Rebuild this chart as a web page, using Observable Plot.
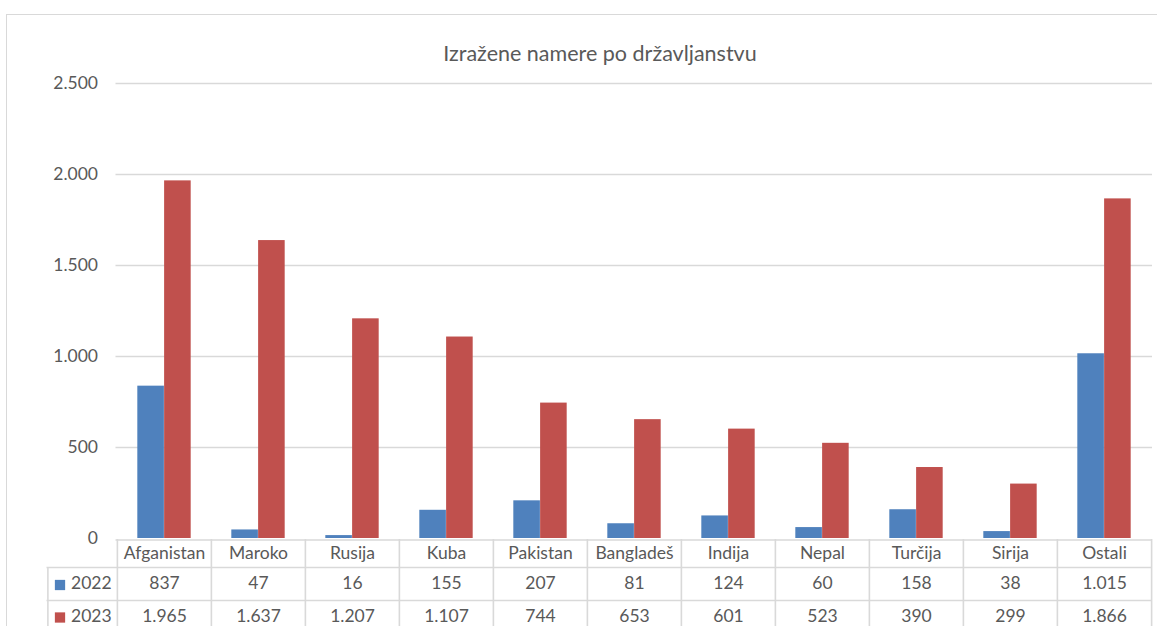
<!DOCTYPE html>
<html><head><meta charset="utf-8">
<script src="https://cdn.jsdelivr.net/npm/d3@7"></script>
<script src="https://cdn.jsdelivr.net/npm/@observablehq/plot@0.6"></script>
<style>
body{margin:0;background:#fff;overflow:hidden;font-family:Lato,"Open Sans",sans-serif;}
#frame{position:absolute;left:6px;top:14px;width:1170px;height:700px;border:1px solid #d9d9d9;box-sizing:border-box;}
#title{position:absolute;left:0;top:40px;width:1200px;text-align:center;font-size:21.5px;line-height:26px;color:#595959;}
#chart{position:absolute;left:0;top:70px;}
</style></head>
<body>
<div id="frame"></div>
<div id="title">Izražene namere po državljanstvu</div>
<div id="chart"></div>
<script>
const countries = ["Afganistan","Maroko","Rusija","Kuba","Pakistan","Bangladeš","Indija","Nepal","Turčija","Sirija","Ostali"];
const values2022 = [837,47,16,155,207,81,124,60,158,38,1015];
const values2023 = [1965,1637,1207,1107,744,653,601,523,390,299,1866];
const years = ["2022","2023"];
const yTicks = [0,500,1000,1500,2000,2500];

const rows = countries.map((c,i)=>({country:c, v2022:values2022[i], v2023:values2023[i]}));
const locale = d3.formatLocale({decimal:",", thousands:".", grouping:[3], currency:["","€"]});
const fmt = locale.format(",d");

const W = 1157, H = 560, mL = 115.5, mR = 5, mT = 13, mB = 92;
const bw = (W - mL - mR) / countries.length;
const plotH = H - mT - mB;
const blue = "#4F81BD", red = "#C0504D", grid = "#d9d9d9", txt = "#595959";
const barW = 26.8, pad = (bw - 2*barW)/2;

const chart = Plot.plot({
  width: W, height: H,
  marginLeft: mL, marginRight: mR, marginTop: mT, marginBottom: mB,
  style: {fontFamily: "Lato, 'Open Sans', sans-serif", fontSize: "17.5px", color: txt, background: "transparent"},
  x: {domain: countries, padding: 0, axis: null},
  y: {domain: [0, 2500], ticks: yTicks, tickFormat: fmt, tickSize: 0, tickPadding: 18, label: null},
  marks: [
    Plot.ruleY(yTicks.slice(1), {stroke: grid, strokeWidth: 1.3}),
    Plot.barY(rows, {x: "country", y: "v2022", fill: blue, insetLeft: pad, insetRight: bw - pad - barW}),
    Plot.barY(rows, {x: "country", y: "v2023", fill: red, insetLeft: pad + barW, insetRight: pad}),
    // table lines
    Plot.ruleY([0], {stroke: grid, strokeWidth: 1.6, dy: 1.5}),
    Plot.ruleY([0], {stroke: grid, strokeWidth: 1.6, dy: 29, insetLeft: -69}),
    Plot.ruleY([0], {stroke: grid, strokeWidth: 1.6, dy: 62, insetLeft: -69}),
    Plot.ruleX(countries, {x: d => d, dx: -bw/2, stroke: grid, strokeWidth: 1.6, insetTop: plotH + 1, insetBottom: -mB}),
    Plot.ruleX([countries[countries.length-1]], {x: d => d, dx: bw/2, stroke: grid, strokeWidth: 1.6, insetTop: plotH + 1, insetBottom: -mB}),
    Plot.ruleX([countries[0]], {x: d => d, dx: -bw/2 - 69.5, stroke: grid, strokeWidth: 1.6, insetTop: plotH + 29, insetBottom: -mB}),
    // table text
    Plot.text(rows, {x: "country", text: "country", frameAnchor: "bottom", dy: 20, fill: txt}),
    Plot.text(rows, {x: "country", text: d => fmt(d.v2022), frameAnchor: "bottom", dy: 50, fill: txt}),
    Plot.text(rows, {x: "country", text: d => fmt(d.v2023), frameAnchor: "bottom", dy: 83, fill: txt}),
    // legend keys
    Plot.dot([years[0]], {x: null, y: null, frameAnchor: "bottom-left", dx: -56, dy: 46.5, symbol: "square", r: 5.8, fill: blue, stroke: null}),
    Plot.dot([years[1]], {x: null, y: null, frameAnchor: "bottom-left", dx: -56, dy: 79, symbol: "square", r: 5.8, fill: red, stroke: null}),
    Plot.text([years[0]], {x: null, y: null, text: d => d, frameAnchor: "bottom-left", textAnchor: "start", dx: -45, dy: 50, fill: txt}),
    Plot.text([years[1]], {x: null, y: null, text: d => d, frameAnchor: "bottom-left", textAnchor: "start", dx: -45, dy: 83, fill: txt})
  ]
});
document.getElementById("chart").appendChild(chart);
</script>
</body></html>
